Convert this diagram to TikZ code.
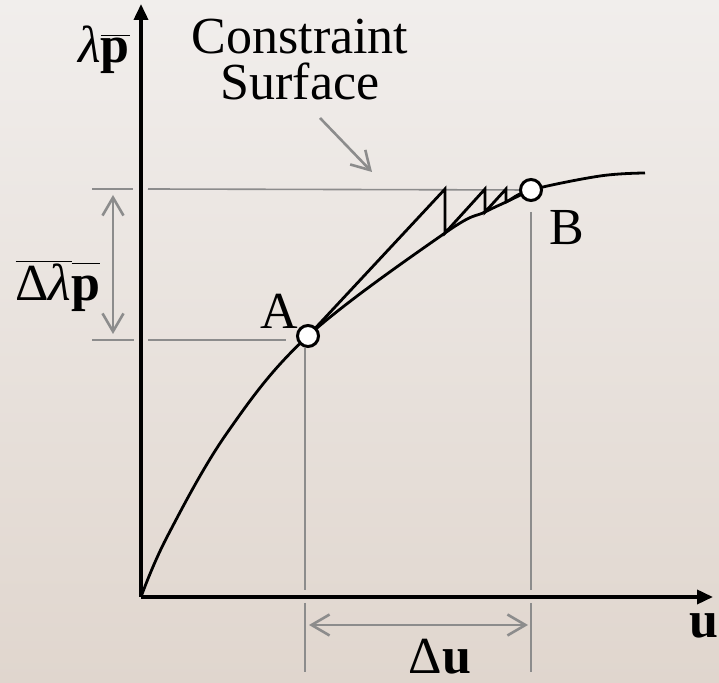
\documentclass[tikz,border=0pt]{standalone}
\usepackage{fontspec}
\setmainfont{Liberation Serif}
\usetikzlibrary{arrows.meta,positioning,calc}
\definecolor{bgtop}{RGB}{241,238,236}
\definecolor{bgbottom}{RGB}{224,214,206}
\definecolor{guidegray}{RGB}{140,140,140}

\begin{document}
\begin{tikzpicture}[x=0.5pt, y=-0.5pt,
    axis/.style={line width=1.8pt, -{Triangle[length=8pt, width=7pt]}},
    curve/.style={line width=1.4pt, line join=miter},
    guide/.style={guidegray, line width=0.8pt},
    dimarrow/.style={guidegray, line width=1.3pt,
                     {Straight Barb[length=9pt, width=10.5pt]}-{Straight Barb[length=9pt, width=10.5pt]}},
    pointer/.style={guidegray, line width=1.3pt, -{Straight Barb[length=9pt, width=10.5pt]}},
    state/.style={circle, draw, fill=white, line width=1.5pt, minimum size=10.5pt, inner sep=0pt},
    lbl/.style={font=\fontsize{26}{23}\selectfont, inner sep=0pt, align=center}
]
\useasboundingbox (0,0) rectangle (719,683);
\shade[top color=bgtop, bottom color=bgbottom] (0,0) rectangle (719,683);

%% Axes
\coordinate (O) at (141,597);
\coordinate (ytip) at (141,4);
\coordinate (xtip) at (713,597);
\draw[axis] (O) -- (ytip);
\draw[axis] (O) -- (xtip);

%% Points on the path
\coordinate (pA) at (308,336);
\coordinate (pB) at (531,190);

%% Guide lines
\draw[guide] (92,189) -- (133,189);
\draw[guide] (148,189) -- (pB);
\draw[guide] (92,340) -- (134,340);
\draw[guide] (148,340) -- (286,340);
\draw[guide] (305,348) -- (305,590);
\draw[guide] (305,603) -- (305,672);
\draw[guide] (531,212) -- (531,590);
\draw[guide] (531,603) -- (531,672);

%% Dimension arrows
\draw[dimarrow] (113,195) -- (113,334);
\draw[dimarrow] (309,625) -- (528,625);

%% Load path curve
\draw[curve] plot[smooth, tension=0.6] coordinates
    {(O) (167,537) (227,433) (pA) (445,233) (485,212) (506,202) (pB) (600,176) (645,173)};

%% Iteration steps
\coordinate (s1) at (445,189);
\coordinate (c1) at (445,233);
\coordinate (s2) at (485,189);
\coordinate (c2) at (485,212);
\coordinate (s3) at (506,189);
\coordinate (c3) at (506,202);
\draw[curve] (pA) -- (s1) -- (c1) -- (s2) -- (c2) -- (s3) -- (c3) -- (pB);

%% States
\node[state] (A) at (pA) {};
\node[state] (B) at (pB) {};

%% Labels
\node[lbl] (cs) at (300,60) {Constraint\\Surface};
\coordinate (cstip) at (372,172);
\draw[pointer] (320,118) -- (cstip);
\node[lbl] (ylab) at (104,50) {\textit{λ}$\overline{\mbox{\textbf{p}}}$};
\node[lbl] (dlp) at (58,286) {$\overline{\mbox{Δ\textit{λ}}}\overline{\mbox{\textbf{p}\vphantom{Δ}}}$};
\node[lbl] (lA) at (279,311) {A};
\node[lbl] (lB) at (567,228) {B};
\node[lbl] (lu) at (704,626) {\textbf{u}};
\node[lbl] (ldu) at (440,657) {Δ\textbf{u}};

\end{tikzpicture}
\end{document}
